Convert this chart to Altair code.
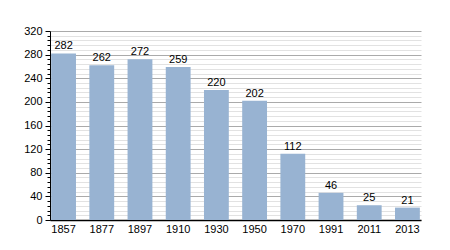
import altair as alt
import pandas as pd

years = ["1857", "1877", "1897", "1910", "1930", "1950", "1970", "1991", "2011", "2013"]
population = [282, 262, 272, 259, 220, 202, 112, 46, 25, 21]

df = pd.DataFrame({"year": years, "pop": population})

FONT = "Liberation Sans"
tick_values = list(range(0, 321, 8))

x = alt.X("year:N", sort=years, title=None,
          scale=alt.Scale(paddingInner=0.35, paddingOuter=0.03),
          axis=alt.Axis(labelAngle=0, labelFont=FONT, labelFontSize=11, labelColor="#000",
                        domainColor="#000", domainWidth=1.5, ticks=False, labelPadding=3))

y = alt.Y("pop:Q", title=None,
          scale=alt.Scale(domain=[0, 320], nice=False),
          axis=alt.Axis(values=tick_values, labelOverlap=False,
                        labelExpr="datum.value % 40 === 0 ? datum.label : ''",
                        labelFont=FONT, labelFontSize=11, labelColor="#000", labelPadding=3,
                        domainColor="#000", domainWidth=1,
                        tickColor="#000",
                        tickSize=alt.condition("datum.value % 40 === 0", alt.value(5), alt.value(3)),
                        grid=True,
                        gridColor=alt.condition("datum.value % 40 === 0", alt.value("#aaaaaa"), alt.value("#e2e2e2")),
                        gridWidth=1))

base = alt.Chart(df).encode(x=x, y=y)
bars = base.mark_bar(color="#98b3d2")
labels = base.mark_text(baseline="bottom", dy=-2, font=FONT, fontSize=11, color="#000").encode(
    text=alt.Text("pop:Q"))

chart = alt.layer(bars, labels).properties(
    width=371, height=189,
    autosize=alt.AutoSizeParams(type="none"),
    padding={"left": 50, "top": 31, "right": 29, "bottom": 30},
    background="white",
).configure_view(stroke=None)

chart.save("out.html", embed_options={"renderer": "svg", "actions": False})
